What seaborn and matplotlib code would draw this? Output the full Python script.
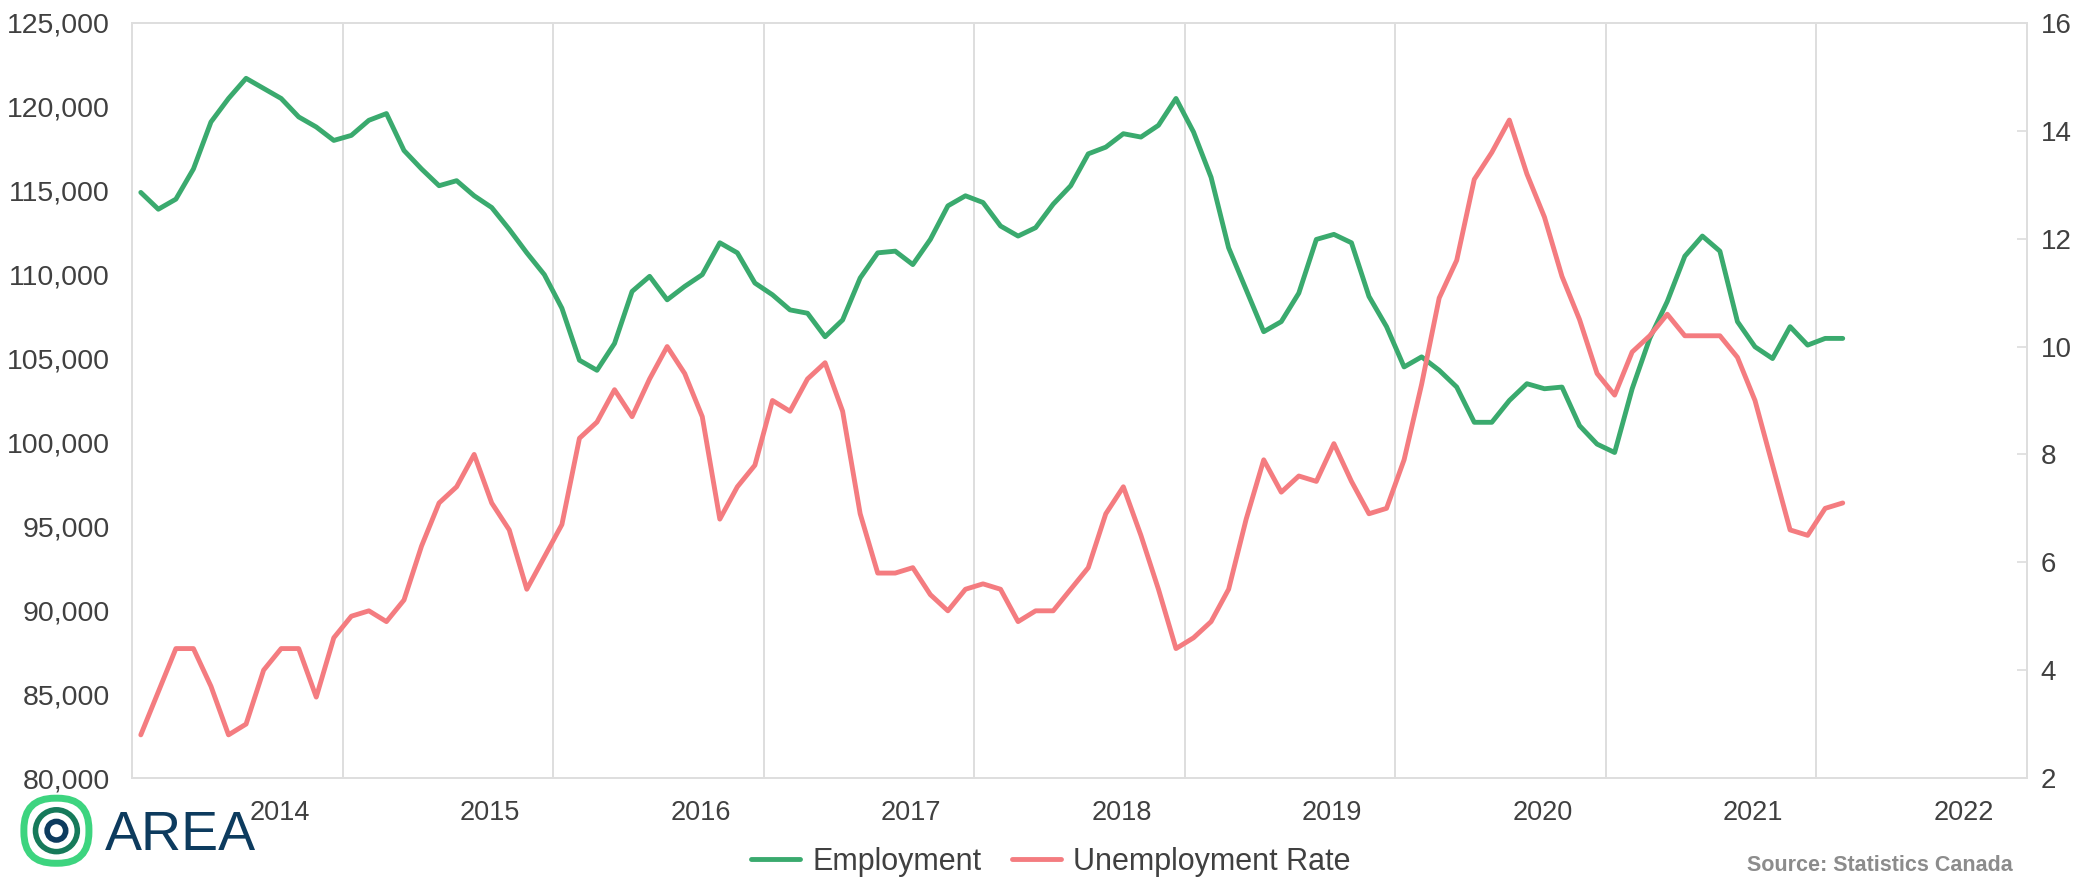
import numpy as np
import pandas as pd
import seaborn as sns
import matplotlib.pyplot as plt
from matplotlib.patches import Circle, FancyBboxPatch
from matplotlib.ticker import FuncFormatter

# monthly series, first month is slot 0 of the date axis
employment = [
    114900, 113900, 114500, 116300, 119100, 120500, 121700, 121100, 120500, 119400, 118800, 118000,
    118300, 119200, 119600, 117400, 116300, 115300, 115600, 114700, 114000, 112700, 111300, 110000,
    108000, 104900, 104300, 105900, 109000, 109900, 108500, 109300, 110000, 111900, 111300, 109500,
    108800, 107900, 107700, 106300, 107300, 109800, 111300, 111400, 110600, 112100, 114100, 114700,
    114300, 112900, 112300, 112800, 114200, 115300, 117200, 117600, 118400, 118200, 118900, 120500,
    118500, 115800, 111600, 109100, 106600, 107200, 108900, 112100, 112400, 111900, 108700, 106900,
    104500, 105100, 104300, 103300, 101200, 101200, 102500, 103500, 103200, 103300, 101000, 99900,
    99400, 103200, 106200, 108400, 111100, 112300, 111400, 107200, 105700, 105000, 106900, 105800,
    106200, 106200,
]
unemployment_rate = [
    2.8, 3.6, 4.4, 4.4, 3.7, 2.8, 3.0, 4.0, 4.4, 4.4, 3.5, 4.6,
    5.0, 5.1, 4.9, 5.3, 6.3, 7.1, 7.4, 8.0, 7.1, 6.6, 5.5, 6.1,
    6.7, 8.3, 8.6, 9.2, 8.7, 9.4, 10.0, 9.5, 8.7, 6.8, 7.4, 7.8,
    9.0, 8.8, 9.4, 9.7, 8.8, 6.9, 5.8, 5.8, 5.9, 5.4, 5.1, 5.5,
    5.6, 5.5, 4.9, 5.1, 5.1, 5.5, 5.9, 6.9, 7.4, 6.5, 5.5, 4.4,
    4.6, 4.9, 5.5, 6.8, 7.9, 7.3, 7.6, 7.5, 8.2, 7.5, 6.9, 7.0,
    7.9, 9.3, 10.9, 11.6, 13.1, 13.6, 14.2, 13.2, 12.4, 11.3, 10.5, 9.5,
    9.1, 9.9, 10.2, 10.6, 10.2, 10.2, 10.2, 9.8, 9.0, 7.8, 6.6, 6.5,
    7.0, 7.1,
]
year_labels = ["2014", "2015", "2016", "2017", "2018", "2019", "2020", "2021", "2022"]

GREEN = "#3AAA6E"
PINK = "#F47C80"
GRID = "#DEDEDE"
TEXT = "#404040"

df = pd.DataFrame({
    "month": np.arange(len(employment)) + 0.5,
    "Employment": employment,
    "Unemployment Rate": unemployment_rate,
})

sns.set_theme(style="white")
plt.rcParams["font.family"] = ["Liberation Sans", "DejaVu Sans"]

fig = plt.figure(figsize=(20.89, 8.8), dpi=100)
ax = fig.add_axes([0.0632, 0.1159, 0.9071, 0.858])
ax2 = ax.twinx()

sns.lineplot(data=df, x="month", y="Employment", ax=ax, color=GREEN, linewidth=3.5)
sns.lineplot(data=df, x="month", y="Unemployment Rate", ax=ax2, color=PINK, linewidth=3.5)

ax.set_xlim(0, 108)
ax.set_ylim(80000, 125000)
ax2.set_ylim(2, 16)

# year gridlines and the year labels (offset from gridlines as in the original)
ax.set_xticks(np.arange(12, 108, 12))
ax.set_xticklabels([])
ax.set_xticks(8.4 + 12 * np.arange(len(year_labels)), year_labels, minor=True)
ax.grid(axis="x", which="major", color=GRID, linewidth=1.4)
ax.grid(axis="y", visible=False)
ax2.grid(False)
ax.tick_params(axis="x", which="both", length=0, labelsize=19.5, labelcolor=TEXT, pad=16)

ax.set_yticks(np.arange(80000, 125001, 5000))
ax.yaxis.set_major_formatter(FuncFormatter(lambda v, p: f"{int(v):,}"))
ax.tick_params(axis="y", length=0, labelsize=20.5, labelcolor=TEXT, pad=16)

ax2.set_yticks(np.arange(2, 17, 2))
ax2.tick_params(axis="y", direction="in", length=7, color=GRID, labelsize=20, labelcolor=TEXT, pad=10)

ax.set_xlabel("")
ax.set_ylabel("")
ax2.set_ylabel("")
for a in (ax, ax2):
    for s in a.spines.values():
        s.set_color(GRID)
        s.set_linewidth(1.4)

handles = [ax.get_lines()[0], ax2.get_lines()[0]]
fig.legend(handles, ["Employment", "Unemployment Rate"], loc="center",
           bbox_to_anchor=(0.503, 0.021), ncol=2, frameon=False, fontsize=22,
           handlelength=1.6, handletextpad=0.4, columnspacing=1.0,
           labelcolor=TEXT)

fig.text(0.9635, 0.016, "Source: Statistics Canada", ha="right", va="center",
         fontsize=15.5, fontweight="bold", color="#8C8C8C")

# AREA logo
logo = fig.add_axes([0.005, 0.012, 0.044, 0.088])
logo.set_xlim(0, 1)
logo.set_ylim(0, 1)
logo.set_aspect("equal")
logo.axis("off")
logo.add_patch(FancyBboxPatch((0.08, 0.08), 0.84, 0.84, boxstyle="round,pad=0,rounding_size=0.4",
                              fill=False, edgecolor="#3DD47F", linewidth=5))
logo.add_patch(Circle((0.5, 0.5), 0.27, fill=False, edgecolor="#167A5A", linewidth=4))
logo.add_patch(Circle((0.5, 0.5), 0.12, fill=False, edgecolor="#0D3B5E", linewidth=4))
fig.text(0.050, 0.050, "AREA", ha="left", va="center", fontsize=40, color="#0D3B5E")

fig.savefig("out.png", dpi=100)
